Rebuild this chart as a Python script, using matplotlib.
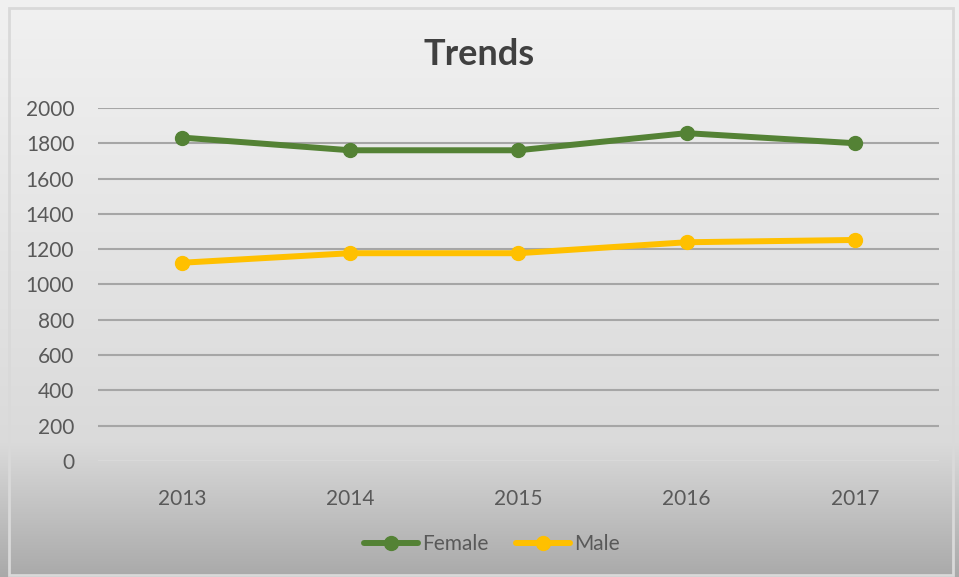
import matplotlib
matplotlib.use("Agg")
import matplotlib.pyplot as plt
import numpy as np
from matplotlib.patches import Rectangle

years = ["2013", "2014", "2015", "2016", "2017"]
female = [1832, 1760, 1760, 1857, 1800]
male = [1123, 1177, 1177, 1239, 1252]
yticks = [0, 200, 400, 600, 800, 1000, 1200, 1400, 1600, 1800, 2000]

plt.rcParams["font.family"] = ["Lato", "DejaVu Sans"]
text_color = "#595959"

fig = plt.figure(figsize=(9.59, 5.77), dpi=100)

# gradient background
bg = fig.add_axes([0, 0, 1, 1], zorder=0)
grad = np.linspace(0, 1, 256).reshape(-1, 1)
top = np.array([0.945, 0.945, 0.945])
mid = np.array([0.855, 0.855, 0.855])
bot = np.array([0.665, 0.665, 0.665])
t = grad[:, :, None]
img = np.where(t < 0.77, top + (mid - top) * (t / 0.77), mid + (bot - mid) * ((t - 0.77) / 0.23))
bg.imshow(img, aspect="auto", extent=[0, 1, 0, 1])
bg.set_xlim(0, 1)
bg.set_ylim(0, 1)
bg.axis("off")
bg.add_patch(Rectangle((0.009, 0.004), 0.985, 0.982, fill=False,
                       edgecolor="#d9d9d9", linewidth=2, transform=bg.transAxes))

ax = fig.add_axes([0.102, 0.201, 0.877, 0.612], zorder=1)
ax.patch.set_alpha(0)
x = np.arange(len(years))
ax.plot(x, female, color="#548235", linewidth=4.3, marker="o", markersize=10,
        label="Female", solid_capstyle="round", zorder=3)
ax.plot(x, male, color="#FFC000", linewidth=4.3, marker="o", markersize=10,
        label="Male", solid_capstyle="round", zorder=3)

ax.set_xlim(-0.5, 4.5)
ax.set_ylim(0, 2000)
ax.set_xticks(x)
ax.set_xticklabels(years)
ax.set_yticks(yticks)
for v in yticks[1:]:
    ax.axhline(v, color="#a6a6a6", linewidth=1.5, zorder=1)
ax.axhline(0, color="#d9d9d9", linewidth=1.5, zorder=1)
for s in ax.spines.values():
    s.set_visible(False)
ax.tick_params(axis="both", length=0, labelsize=15, colors=text_color)
ax.tick_params(axis="y", pad=17)
ax.tick_params(axis="x", pad=20)

fig.text(0.5, 0.887, "Trends", ha="center", va="baseline", fontsize=26,
         fontweight="bold", color="#404040")

fig.legend(loc="center", bbox_to_anchor=(0.513, 0.057), ncol=2, frameon=False,
           fontsize=15, labelcolor=text_color, handlelength=2.6,
           handletextpad=0.2, columnspacing=1.3)

fig.savefig("out.png", dpi=100)
